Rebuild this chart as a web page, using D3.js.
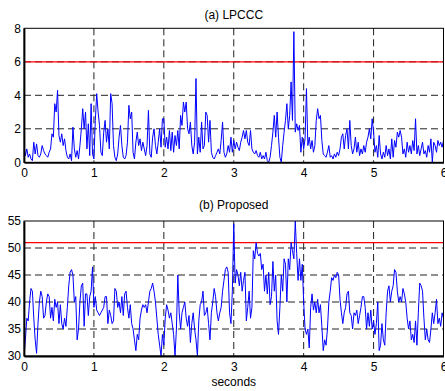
<!DOCTYPE html>
<html>
<head>
<meta charset="utf-8">
<script src="https://cdn.jsdelivr.net/npm/d3@7"></script>
<style>
  body { margin: 0; background: #fff; }
  text { font-family: Arial, "Liberation Sans", sans-serif; fill: #000; }
</style>
</head>
<body>
<svg id="chart" width="445" height="391"></svg>
<script>
// sampling step of both traces, in seconds
const sampleStep = 0.02;
const xTicks = [0, 1, 2, 3, 4, 5, 6];

// (a) LPCCC distance, one value every 0.02 s
const lpcccValues = [
  1.0, 0.4, 0.8, 0.3, 0.5,  0.2, 0.1, 1.2, 0.5, 1.1,
  0.4, 0.3, 0.5, 1.0, 0.7,  0.5, 0.4, 0.3, 0.6, 0.8,
  1.7, 1.5, 3.5, 3.0, 4.3,  1.6, 1.2, 1.7, 1.0, 1.4,
  0.7, 0.3, 0.2, 0.5, 0.1,  2.1, 0.8, 0.3, 0.7, 0.2,
  1.0, 2.0, 3.2, 2.0, 3.0,  0.8, 2.3, 0.4, 3.5, 0.5,
  0.2, 2.5, 4.1, 3.0, 2.2,  0.6, 0.4, 1.8, 2.5, 1.2,
  2.0, 0.8, 4.1, 3.5, 1.0,  0.3, 0.1, 0.5, 1.5, 2.2,
  1.0, 0.3, 0.2, 0.4, 1.2,  3.4, 2.6, 3.0, 0.6, 0.2,
  1.2, 1.8, 1.0, 1.4, 0.7,  1.2, 0.8, 0.4, 1.0, 3.1,
  0.5, 0.3, 1.5, 2.0, 1.0,  0.5, 1.2, 2.0, 0.9, 2.6,
  2.6, 0.9, 1.5, 0.8, 1.9,  0.7, 1.8, 0.6, 1.6, 1.0,
  1.9, 0.8, 2.8, 2.2, 3.6,  3.0, 3.6, 2.0, 1.7, 2.4,
  1.0, 0.5, 1.2, 5.0, 0.5,  1.5, 0.6, 2.4, 0.8, 1.0,
  3.0, 2.8, 1.2, 2.5, 0.6,  0.3, 0.2, 0.4, 0.6, 0.8,
  0.5, 1.3, 2.4, 0.6, 0.3,  0.5, 1.0, 0.6, 1.5, 0.6,
  1.3, 0.8, 1.2, 0.9, 0.7,  1.2, 1.5, 1.9, 1.4, 1.9,
  1.2, 1.0, 1.9, 0.8, 0.6,  0.5, 0.7, 0.4, 0.3, 0.6,
  0.2, 0.4, 0.2, 0.6, 0.1,  0.0, 0.3, 1.0, 1.8, 2.8,
  1.5, 3.0, 1.5, 0.3, 0.0,  1.0, 1.8, 2.5, 3.5, 2.0,
  2.8, 4.8, 2.5, 7.8, 1.8,  2.3, 1.9, 2.2, 0.6, 1.5,
  0.8, 1.4, 4.4, 1.0, 1.5,  0.8, 1.3, 0.6, 1.0, 2.5,
  3.2, 2.6, 2.8, 1.3, 0.5,  0.4, 0.3, 0.6, 1.0, 0.3,
  0.4, 0.2, 0.5, 0.3, 0.6,  0.4, 0.8, 1.5, 1.7, 0.8,
  1.6, 2.0, 0.8, 2.5, 1.0,  0.5, 0.8, 1.5, 0.6, 1.2,
  0.4, 0.8, 0.5, 1.0, 0.6,  1.2, 1.5, 2.0, 1.4, 2.6,
  1.8, 0.6, 1.0, 0.3, 1.6,  0.5, 0.2, 0.6, 0.3, 1.0,
  0.4, 0.8, 0.2, 1.4, 0.3,  1.3, 0.9, 1.8, 1.5, 1.9,
  1.5, 0.5, 0.8, 0.3, 1.2,  0.6, 1.0, 0.5, 1.3, 0.7,
  2.6, 0.5, 1.0, 0.4, 0.8,  1.2, 0.5, 0.7, 0.3, 1.0,
  0.6, 1.4, 0.0, 1.2, 1.0,  0.6, 1.3, 1.0, 1.2, 0.9,
  1.3
];

// (b) proposed measure, same sampling
const proposedValues = [
  30, 33, 37, 36.5, 40,  42.5, 42, 37, 33, 30.5,
  36, 40, 42, 41, 37,  37.5, 40, 41.5, 41, 37,
  39, 36.5, 40.5, 39, 40,  36, 39.5, 36, 35, 37,
  35.5, 39, 43, 45.5, 46,  45, 40, 41, 33, 35,
  40, 43, 43.5, 35.5, 41.5,  41.5, 37.5, 41, 42, 46.5,
  39, 41, 38.5, 38, 37.5,  38, 38.5, 39, 41, 41,
  36, 38.5, 37.5, 36, 36.5,  42.5, 42, 39, 40, 38,
  41, 37.5, 41.5, 42, 39,  37, 39.5, 36, 35, 33,
  31, 34, 33, 37, 38.5,  39.5, 39, 39.5, 38, 40,
  42, 42.5, 43.5, 42, 40,  37, 34, 32, 30, 34,
  32, 37, 39.5, 38.5, 37,  38, 36, 34, 30, 35,
  45, 38, 35, 38, 39,  40, 37, 35.5, 37.5, 32.5,
  36, 38, 35, 33, 30,  36.5, 39.5, 40, 42, 37.5,
  38, 39, 36, 33, 38,  40, 42.5, 41, 38, 36.5,
  38, 39, 42, 44, 46,  46.5, 45.5, 38, 36, 42,
  54.5, 43.5, 46, 45, 43,  45.5, 42, 44, 45.5, 36.5,
  39, 42, 37, 39, 49.5,  48, 51, 49, 48.5, 49,
  46, 47, 42, 45, 41.5,  45.5, 39.5, 41, 47.5, 42,
  45, 36.5, 34, 39, 45,  42, 48, 47, 40, 48,
  46, 51, 49.5, 48, 55,  49, 44, 48, 44, 47,
  40, 35, 34, 35, 31.5,  39, 41.5, 38.5, 40, 38,
  40.5, 38, 39.5, 35.5, 31,  33, 32, 35, 40, 42,
  44.5, 44, 45, 44.5, 45.5,  45, 40.5, 38, 36, 38,
  39, 41.5, 42, 38, 37.5,  35, 38, 37.5, 38.5, 36,
  37.5, 39, 41, 41, 39,  35, 38, 35.5, 38.5, 35,
  36.5, 34, 36, 40, 31,  32, 36, 33, 32, 38,
  42, 43, 40, 42, 43,  46, 45.5, 42, 40, 41,
  40, 42.5, 41.5, 40, 37,  35, 36.5, 33, 34, 32.5,
  36.5, 32, 38, 43.5, 43,  42, 37, 33, 35, 33,
  32.5, 35, 38, 36, 38,  40.5, 36, 37, 35.5, 38,
  37
];

const lpcccTicks = [0, 2, 4, 6, 8];
const proposedTicks = [30, 35, 40, 45, 50, 55];
const lpcccThreshold = 6;
const proposedThreshold = 51;

const panels = [
  { id: "a", title: "(a) LPCCC", values: lpcccValues, domain: [0, 8], ticks: lpcccTicks,
    threshold: lpcccThreshold, top: 28.3, bottom: 162.3, titleY: 19 },
  { id: "b", title: "(b) Proposed", values: proposedValues, domain: [30, 55], ticks: proposedTicks,
    threshold: proposedThreshold, top: 221, bottom: 356, titleY: 209 }
];

const svg = d3.select("#chart");
const left = 24, right = 443.5;

const x = d3.scaleLinear().domain([0, 6]).range([left, right]);

panels.forEach(p => {
  const y = d3.scaleLinear().domain(p.domain).range([p.bottom, p.top]);
  const g = svg.append("g");

  g.append("clipPath").attr("id", "clip-" + p.id)
    .append("rect")
    .attr("x", left).attr("y", p.top)
    .attr("width", right - left).attr("height", p.bottom - p.top);

  // dashed grid, inner ticks only
  g.selectAll(".vgrid")
    .data(xTicks.slice(1, -1))
    .enter().append("line")
    .attr("x1", d => x(d)).attr("x2", d => x(d))
    .attr("y1", p.top).attr("y2", p.bottom)
    .attr("stroke", "#222").attr("stroke-dasharray", "7,4");

  g.selectAll(".hgrid")
    .data(p.ticks.slice(1, -1))
    .enter().append("line")
    .attr("x1", left).attr("x2", right)
    .attr("y1", d => y(d)).attr("y2", d => y(d))
    .attr("stroke", "#222").attr("stroke-dasharray", "7,4");

  // threshold
  g.append("line")
    .attr("x1", left).attr("x2", right)
    .attr("y1", y(p.threshold)).attr("y2", y(p.threshold))
    .attr("stroke", "#ff0000").attr("stroke-width", 1.2);

  const line = d3.line()
    .x((d, i) => x(i * sampleStep))
    .y(d => y(d));

  g.append("path")
    .datum(p.values)
    .attr("clip-path", "url(#clip-" + p.id + ")")
    .attr("fill", "none")
    .attr("stroke", "#0000ff")
    .attr("stroke-width", 1)
    .attr("stroke-linejoin", "round")
    .attr("d", line);

  // box
  g.append("rect")
    .attr("x", left).attr("y", p.top)
    .attr("width", right - left).attr("height", p.bottom - p.top)
    .attr("fill", "none").attr("stroke", "#000").attr("stroke-width", 1);

  const xAxis = g.append("g")
    .attr("transform", "translate(0," + p.bottom + ")")
    .call(d3.axisBottom(x).tickValues(xTicks).tickFormat(d3.format("d")).tickSize(0).tickPadding(6));
  xAxis.select(".domain").attr("stroke", "#000").attr("stroke-width", 1.8);
  xAxis.selectAll("text").style("font-size", "12px");

  const yAxis = g.append("g")
    .attr("transform", "translate(" + left + ",0)")
    .call(d3.axisLeft(y).tickValues(p.ticks).tickFormat(d3.format("d")).tickSize(0).tickPadding(3));
  yAxis.select(".domain").attr("stroke", "#000").attr("stroke-width", 1.8);
  yAxis.selectAll("text").style("font-size", "12px");

  g.append("text")
    .attr("x", x(3)).attr("y", p.titleY)
    .attr("text-anchor", "middle")
    .style("font-size", "12px")
    .text(p.title);
});

svg.append("text")
  .attr("x", x(3)).attr("y", 386)
  .attr("text-anchor", "middle")
  .style("font-size", "12px")
  .text("seconds");
</script>
</body>
</html>
